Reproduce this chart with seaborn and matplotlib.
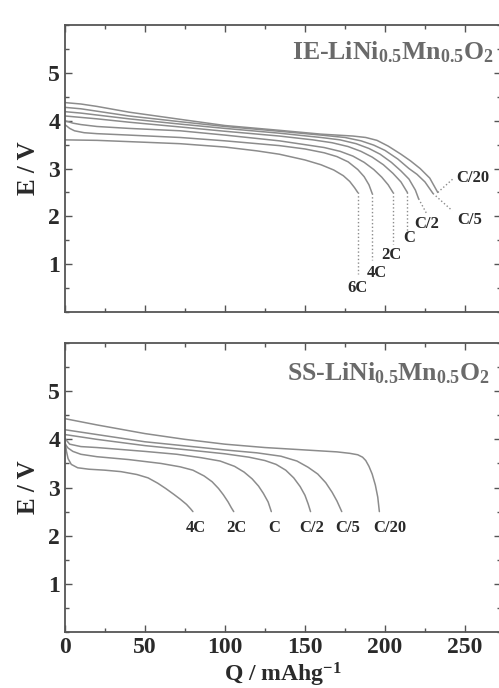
import numpy as np
import pandas as pd
import seaborn as sns
import matplotlib.pyplot as plt
from matplotlib.ticker import MultipleLocator

# IE-LiNi0.5Mn0.5O2 discharge curves (Q in mAh/g, E in V)
ie_rates = ["C/20", "C/5", "C/2", "C", "2C", "4C", "6C"]
ie_q = {
    "C/20": [0, 10, 20, 40, 72, 100, 134, 160, 180, 188, 195, 202, 210, 216, 222, 228, 233],
    "C/5": [0, 10, 20, 40, 72, 100, 134, 160, 175, 185, 193, 200, 208, 215, 220, 225, 230],
    "C/2": [0, 10, 20, 40, 72, 100, 134, 160, 172, 182, 190, 197, 204, 210, 215, 219, 221],
    "C": [0, 10, 20, 40, 72, 100, 134, 155, 167, 177, 185, 192, 199, 205, 210, 214],
    "2C": [0, 5, 10, 20, 40, 72, 100, 134, 150, 162, 172, 180, 187, 193, 198, 202, 205],
    "4C": [0, 3, 6, 12, 20, 40, 72, 100, 134, 150, 162, 170, 177, 183, 187, 190, 192],
    "6C": [0, 20, 50, 72, 100, 120, 134, 150, 160, 168, 174, 178, 181, 183],
}
ie_v = {
    "C/20": [4.38, 4.35, 4.3, 4.18, 4.03, 3.9, 3.8, 3.72, 3.68, 3.65, 3.59, 3.47, 3.3, 3.16, 3.0, 2.8, 2.5],
    "C/5": [4.28, 4.25, 4.2, 4.1, 3.98, 3.88, 3.78, 3.7, 3.65, 3.58, 3.49, 3.38, 3.2, 3.0, 2.88, 2.72, 2.48],
    "C/2": [4.19, 4.16, 4.12, 4.04, 3.93, 3.84, 3.74, 3.65, 3.6, 3.52, 3.42, 3.3, 3.13, 2.95, 2.78, 2.55, 2.37],
    "C": [4.1, 4.07, 4.04, 3.97, 3.87, 3.78, 3.68, 3.6, 3.54, 3.46, 3.36, 3.24, 3.08, 2.9, 2.72, 2.5],
    "2C": [4.0, 3.95, 3.92, 3.88, 3.84, 3.79, 3.7, 3.58, 3.5, 3.44, 3.36, 3.26, 3.13, 2.98, 2.82, 2.66, 2.5],
    "4C": [3.92, 3.84, 3.79, 3.75, 3.73, 3.7, 3.65, 3.58, 3.48, 3.41, 3.33, 3.25, 3.14, 2.98, 2.83, 2.66, 2.48],
    "6C": [3.6, 3.59, 3.55, 3.52, 3.45, 3.37, 3.3, 3.18, 3.08, 2.97, 2.85, 2.73, 2.6, 2.5],
}
# dotted leaders from curve end to label
ie_lead_q = {"C/20": [233, 243], "C/5": [230, 242], "C/2": [221, 226], "C": [214, 214],
             "2C": [205, 205], "4C": [192, 192], "6C": [183, 183]}
ie_lead_v = {"C/20": [2.5, 2.8], "C/5": [2.48, 2.12], "C/2": [2.37, 2.06], "C": [2.5, 1.65],
             "2C": [2.5, 1.42], "4C": [2.48, 1.08], "6C": [2.5, 0.8]}
ie_lab_q = {"C/20": 255, "C/5": 253, "C/2": 226, "C": 215, "2C": 204, "4C": 195, "6C": 183}
ie_lab_v = {"C/20": 2.81, "C/5": 1.92, "C/2": 1.85, "C": 1.54, "2C": 1.19, "4C": 0.81, "6C": 0.5}

# SS-LiNi0.5Mn0.5O2 discharge curves
ss_rates = ["C/20", "C/5", "C/2", "C", "2C", "4C"]
ss_q = {
    "C/20": [0, 20, 50, 75, 100, 125, 150, 170, 178, 183, 186, 188, 190, 192, 194, 195.5, 196.5],
    "C/5": [0, 20, 50, 100, 120, 135, 145, 152, 158, 163, 167, 170, 173],
    "C/2": [0, 20, 50, 80, 100, 115, 125, 132, 138, 143, 147, 150, 152, 153.5],
    "C": [0, 3, 10, 20, 50, 70, 85, 97, 106, 112, 117, 121, 124, 127, 129],
    "2C": [0, 2, 5, 10, 20, 40, 60, 72, 80, 87, 92, 96, 99, 102, 104, 105.5],
    "4C": [0, 1, 2, 4, 8, 15, 25, 35, 45, 52, 58, 63, 68, 72, 76, 78.5, 80],
}
ss_v = {
    "C/20": [4.43, 4.3, 4.12, 4.0, 3.9, 3.83, 3.78, 3.74, 3.71, 3.68, 3.63, 3.56, 3.44, 3.28, 3.05, 2.8, 2.5],
    "C/5": [4.2, 4.1, 3.95, 3.78, 3.72, 3.65, 3.55, 3.42, 3.28, 3.1, 2.9, 2.72, 2.5],
    "C/2": [4.1, 4.0, 3.87, 3.77, 3.7, 3.63, 3.56, 3.48, 3.36, 3.2, 3.02, 2.84, 2.66, 2.5],
    "C": [4.02, 3.9, 3.85, 3.83, 3.75, 3.69, 3.62, 3.55, 3.44, 3.32, 3.18, 3.03, 2.88, 2.7, 2.5],
    "2C": [3.91, 3.82, 3.75, 3.69, 3.64, 3.58, 3.5, 3.43, 3.36, 3.24, 3.12, 2.98, 2.85, 2.7, 2.58, 2.5],
    "4C": [4.0, 3.75, 3.6, 3.48, 3.41, 3.38, 3.36, 3.33, 3.27, 3.2, 3.09, 2.98, 2.86, 2.76, 2.65, 2.56, 2.5],
}
ss_lab_q = {"C/20": 203, "C/5": 177, "C/2": 154, "C": 131, "2C": 107, "4C": 82}
ss_lab_v = 2.15

sns.set_style("ticks")
plt.rcParams["font.family"] = ["Liberation Serif", "DejaVu Serif"]
plt.rcParams["font.weight"] = "bold"
plt.rcParams["mathtext.fontset"] = "custom"
plt.rcParams["mathtext.rm"] = "Liberation Serif:bold"
plt.rcParams["mathtext.bf"] = "Liberation Serif:bold"
plt.rcParams["mathtext.default"] = "rm"

line_col = "#8c8c8c"
text_col = "#2a2a2a"

fig = plt.figure(figsize=(4.99, 6.88), dpi=100)
ax1 = fig.add_axes([0.130, 0.5465, 0.874, 0.417])
ax2 = fig.add_axes([0.130, 0.0814, 0.874, 0.420])


def to_long(rates, qd, vd):
    rows = []
    for r in rates:
        for q, v in zip(qd[r], vd[r]):
            rows.append({"rate": r, "Q": q, "E": v})
    return pd.DataFrame(rows)


df_ie = to_long(ie_rates, ie_q, ie_v)
df_ss = to_long(ss_rates, ss_q, ss_v)
pal1 = {r: line_col for r in ie_rates}
pal2 = {r: line_col for r in ss_rates}

sns.lineplot(data=df_ie, x="Q", y="E", hue="rate", palette=pal1, estimator=None,
             sort=False, lw=1.1, legend=False, ax=ax1)
sns.lineplot(data=df_ss, x="Q", y="E", hue="rate", palette=pal2, estimator=None,
             sort=False, lw=1.1, legend=False, ax=ax2)

for r in ie_rates:
    ax1.plot(ie_lead_q[r], ie_lead_v[r], ls=":", color=line_col, lw=1.0)
    ax1.text(ie_lab_q[r], ie_lab_v[r], r, ha="center", va="center",
             fontsize=12, fontweight="bold", color=text_col)
for r in ss_rates:
    ax2.text(ss_lab_q[r], ss_lab_v, r, ha="center", va="center",
             fontsize=12, fontweight="bold", color=text_col)

ax1.text(0.52, 0.905, r"IE-LiNi$_{0.5}$Mn$_{0.5}$O$_{2}$", transform=ax1.transAxes,
         fontsize=18.5, color="#6a6a6a", ha="left", va="center")
ax2.text(0.51, 0.895, r"SS-LiNi$_{0.5}$Mn$_{0.5}$O$_{2}$", transform=ax2.transAxes,
         fontsize=18.5, color="#6a6a6a", ha="left", va="center")

for ax in (ax1, ax2):
    ax.set_xlim(0, 272.5)
    ax.set_ylim(0, 6)
    ax.set_xticks([0, 50, 100, 150, 200, 250])
    ax.set_yticks([1, 2, 3, 4, 5])
    ax.xaxis.set_minor_locator(MultipleLocator(25))
    ax.yaxis.set_minor_locator(MultipleLocator(0.5))
    ax.tick_params(which="both", direction="in", top=True, right=True,
                   color="#555555", width=1.0)
    ax.tick_params(which="major", length=5, labelsize=17, labelcolor=text_col)
    ax.tick_params(which="minor", length=3)
    for s in ax.spines.values():
        s.set_color("#555555")
        s.set_linewidth(1.3)
    ax.set_ylabel("E / V", fontsize=18, fontweight="bold", color=text_col, labelpad=6)
    for lab in ax.get_xticklabels() + ax.get_yticklabels():
        lab.set_fontweight("bold")

ax1.tick_params(labelbottom=False)
ax1.set_xlabel("")
ax2.set_xlabel(r"Q / mAhg$^{-1}$", fontsize=17, fontweight="bold", color=text_col, labelpad=2)

fig.savefig("out.png", dpi=100)
